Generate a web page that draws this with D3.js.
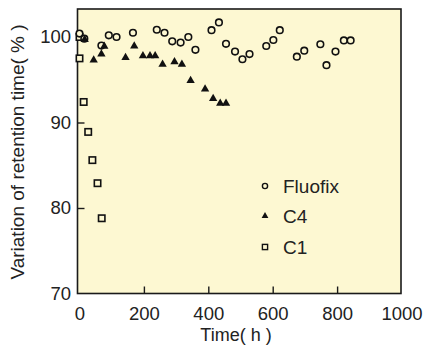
<!DOCTYPE html>
<html><head><meta charset="utf-8">
<script src="https://cdn.jsdelivr.net/npm/d3@7"></script>
<style>body{margin:0;background:#fff}svg{display:block}text{font-family:"Liberation Sans",Arial,sans-serif;fill:#222}</style>
</head><body><svg id="c" width="427" height="347"></svg>
<script>
const fluofixT = [0, 15, 68, 91, 115, 166, 240, 264, 288, 314, 338, 360, 410, 433, 455, 483, 506, 528, 580, 602, 622, 675, 698, 748, 767, 795, 821, 842];
const fluofixV = [100.4, 99.8, 99.0, 100.2, 100.0, 100.5, 100.85, 100.5, 99.5, 99.35, 100.0, 98.5, 100.8, 101.7, 99.2, 98.3, 97.4, 98.0, 98.95, 99.65, 100.8, 97.7, 98.4, 99.15, 96.7, 98.3, 99.6, 99.6];
const c4T = [16, 44, 68, 77, 143, 170, 197, 219, 235, 258, 295, 318, 345, 390, 415, 437, 455];
const c4V = [99.7, 97.3, 98.0, 98.9, 97.6, 98.95, 97.8, 97.8, 97.8, 96.8, 97.1, 96.8, 94.9, 93.9, 92.8, 92.25, 92.25];
const c1T = [0, 0, 13, 27, 40, 56, 69];
const c1V = [100.0, 97.5, 92.4, 88.9, 85.6, 82.9, 78.8];
const xTicks = [0, 200, 400, 600, 800, 1000];
const yTicks = [70, 80, 90, 100];
const legendNames = ["Fluofix", "C4", "C1"];

const svg = d3.select("#c");
const L = 77.5, R = 401, T = 9, B = 293.5;
const x = d3.scaleLinear().domain([0, 1000]).range([79.5, 401.5]);
const y = d3.scaleLinear().domain([70, 100]).range([B, 37]);
const FONT = "Liberation Sans, Arial, sans-serif";

svg.append("rect").attr("x", L).attr("y", T).attr("width", R - L).attr("height", B - T)
  .attr("fill", "#fdf8d2").attr("stroke", "#1a1a1a").attr("stroke-width", 1.6);

const xa = svg.append("g").attr("transform", `translate(0,${B})`)
  .call(d3.axisBottom(x).tickValues(xTicks).tickSizeInner(-7).tickSizeOuter(0).tickPadding(13).tickFormat(d3.format("d")));
xa.select(".domain").remove();
xa.selectAll(".tick line").attr("stroke", "#1a1a1a").attr("stroke-width", 1.4)
  .filter(d => d === 0 || d === 1000).remove();
xa.selectAll("text").attr("font-size", 18.5).attr("fill", "#222").attr("font-family", FONT);

const ya = svg.append("g").attr("transform", `translate(${L},0)`)
  .call(d3.axisLeft(y).tickValues(yTicks).tickSizeInner(-7).tickSizeOuter(0).tickPadding(6.5).tickFormat(d3.format("d")));
ya.select(".domain").remove();
ya.selectAll(".tick line").attr("stroke", "#1a1a1a").attr("stroke-width", 1.4)
  .filter(d => d === 70 || d === 100).remove();
ya.selectAll("text").attr("font-size", 18.5).attr("fill", "#222").attr("font-family", FONT);

svg.append("text").attr("x", 236).attr("y", 341).attr("text-anchor", "middle").attr("font-size", 18).text("Time( h )");
svg.append("text").attr("transform", "translate(24,152) rotate(-90)").attr("text-anchor", "middle").attr("font-size", 19).text("Variation of retention time( % )");

const tri = d3.symbol().type(d3.symbolTriangle).size(30);
const g = svg.append("g");
g.selectAll(".c1").data(c1T.map((t, i) => [t, c1V[i]])).join("rect")
  .attr("x", d => x(d[0]) - 3.2).attr("y", d => y(d[1]) - 3.2).attr("width", 6.4).attr("height", 6.4)
  .attr("fill", "#fdf8d2").attr("stroke", "#111").attr("stroke-width", 1.6);
g.selectAll(".ff").data(fluofixT.map((t, i) => [t, fluofixV[i]])).join("circle")
  .attr("cx", d => x(d[0])).attr("cy", d => y(d[1])).attr("r", 3.3)
  .attr("fill", "#fdf8d2").attr("stroke", "#111").attr("stroke-width", 1.6);
g.selectAll(".c4").data(c4T.map((t, i) => [t, c4V[i]])).join("path")
  .attr("d", tri).attr("transform", d => `translate(${x(d[0])},${y(d[1])})`).attr("fill", "#111");

const leg = svg.append("g");
const ly = [186, 216, 247];
legendNames.forEach((n, i) => {
  const cx = 265, cy = ly[i];
  if (i === 0) leg.append("circle").attr("cx", cx).attr("cy", cy).attr("r", 2.6).attr("fill", "none").attr("stroke", "#111").attr("stroke-width", 1.4);
  if (i === 1) leg.append("path").attr("d", d3.symbol().type(d3.symbolTriangle).size(20)).attr("transform", `translate(${cx},${cy})`).attr("fill", "#111");
  if (i === 2) leg.append("rect").attr("x", cx - 2.6).attr("y", cy - 2.6).attr("width", 5.2).attr("height", 5.2).attr("fill", "none").attr("stroke", "#111").attr("stroke-width", 1.4);
  leg.append("text").attr("x", 283).attr("y", cy + 7).attr("font-size", 19).text(n);
});
</script></body></html>
